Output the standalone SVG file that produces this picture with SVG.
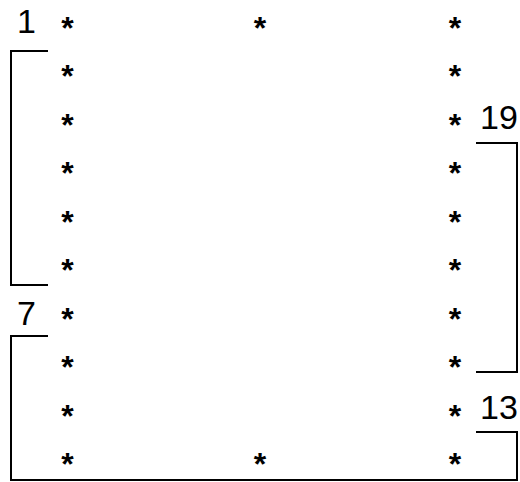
<svg xmlns="http://www.w3.org/2000/svg" width="520" height="482" viewBox="0 0 520 482">
<style>
text{font-family:"Liberation Sans",Arial,sans-serif;font-size:34px;fill:#000}
.a{text-anchor:middle;font-size:32px;font-weight:bold}
.line{fill:none;stroke:#000;stroke-width:2;stroke-linecap:square}
</style>
<rect width="520" height="482" fill="#fff"/>
<g id="connectors">
<polyline class="line" points="47,51 11,51 11,285 47,285"/>
<polyline class="line" points="477,143 517,143 517,372 477,372"/>
<polyline class="line" points="47,336 11,336 11,480 517,480"/>
<polyline class="line" points="477,432 517,432 517,480"/>
</g>
<g id="labels">
<g id="label-1"><text x="17" y="33">1</text></g>
<g id="label-19"><text x="480" y="129">19</text></g>
<g id="label-7"><text x="17" y="325">7</text></g>
<g id="label-13"><text x="480" y="419">13</text></g>
</g>
<g id="row1"><text class="a" x="67.5" y="39">*</text><text class="a" x="260" y="39">*</text><text class="a" x="455" y="39">*</text></g>
<g id="row2"><text class="a" x="67.5" y="87.4">*</text><text class="a" x="455" y="87.4">*</text></g>
<g id="row3"><text class="a" x="67.5" y="135.9">*</text><text class="a" x="455" y="135.9">*</text></g>
<g id="row4"><text class="a" x="67.5" y="184.3">*</text><text class="a" x="455" y="184.3">*</text></g>
<g id="row5"><text class="a" x="67.5" y="232.8">*</text><text class="a" x="455" y="232.8">*</text></g>
<g id="row6"><text class="a" x="67.5" y="281.2">*</text><text class="a" x="455" y="281.2">*</text></g>
<g id="row7"><text class="a" x="67.5" y="329.7">*</text><text class="a" x="455" y="329.7">*</text></g>
<g id="row8"><text class="a" x="67.5" y="378.1">*</text><text class="a" x="455" y="378.1">*</text></g>
<g id="row9"><text class="a" x="67.5" y="426.6">*</text><text class="a" x="455" y="426.6">*</text></g>
<g id="row10"><text class="a" x="67.5" y="475">*</text><text class="a" x="260" y="475">*</text><text class="a" x="455" y="475">*</text></g>
</svg>
